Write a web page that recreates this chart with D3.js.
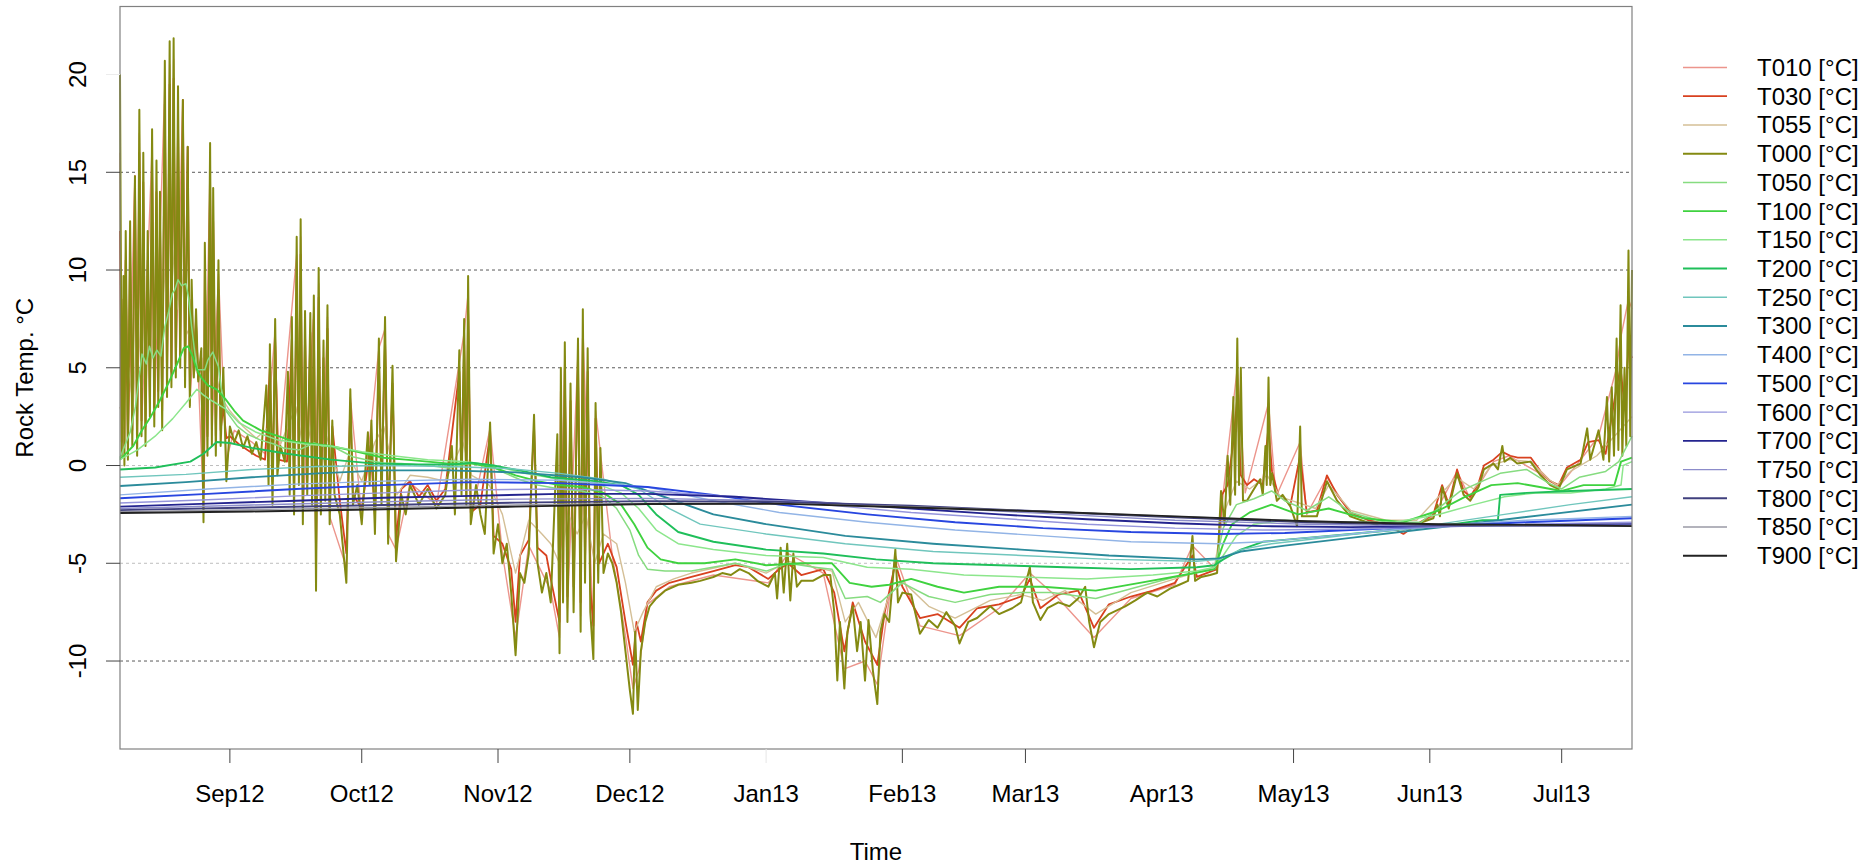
<!DOCTYPE html>
<html>
<head>
<meta charset="utf-8">
<script src="https://cdn.jsdelivr.net/npm/d3@7"></script>
<style>
body{margin:0;background:#fff}
svg{display:block}
text{font-family:"Liberation Sans",Arial,Helvetica,sans-serif;fill:#000}
</style>
</head>
<body>
<svg id="chart" width="1872" height="865"></svg>
<script>

// day offsets from 7 Aug 2012, temperature in degC
var T010 = [[0,16],[0.4,0.8],[1.3,11],[1.8,0.8],[3.4,14.8],[3.9,0.9],[4.4,17],[4.9,1.9],[7.3,16.3],[7.8,2.5],[10.2,19.5],[10.7,3.9],[11.3,20.5],[11.7,4.4],[12.2,20.8],[12.7,4.8],[14.3,18.7],[14.8,4.4],[15.4,16.3],[15.9,3.4],[17.3,7.6],[19.0,-2.2],[20.5,15.5],[20.9,1.4],[22.4,9.8],[24.2,0.3],[26,1.8],[30,1.2],[33,0.6],[35.3,6.9],[36,0.2],[40.2,10.8],[40.7,-0.8],[41.1,11.7],[41.6,-2.5],[44.1,8.1],[44.6,-5.6],[45.2,9.3],[45.7,-2.2],[47.2,7.6],[47.7,-2.6],[51.5,-5.2],[52.4,3.5],[55,-2.6],[58.9,6.0],[60.3,7.0],[61,-3.5],[62.8,-4.3],[66,-0.9],[72,-2.0],[78.3,6.8],[79.2,8.8],[79.8,-2.7],[84.2,1.9],[87,-4.5],[90,-8.8],[93,-4.1],[98,-6.4],[100,-8.8],[101.2,5.6],[101.8,-7.3],[104.2,5.8],[104.8,-7.7],[105.3,7.2],[107.7,-9.0],[108.2,2.8],[112,-4.6],[115,-8.7],[116.7,-11.4],[118,-10.5],[120,-7.1],[125,-6.2],[135,-5.6],[147.5,-6.0],[152,-4.5],[160,-5.5],[164.8,-10.4],[169.5,-10],[172.3,-11.2],[176.4,-4.6],[182,-8.2],[191,-8.7],[200,-7.3],[207,-5.5],[213.5,-6.8],[221.6,-8.8],[230,-6.8],[240,-6.1],[244,-4.1],[249.6,-5.4],[251,-1.4],[254.2,5.0],[256,-1.4],[261.3,3.2],[263,-1.6],[268.5,1.2],[270,-2.5],[274.6,-0.6],[280,-2.5],[292,-3.3],[298.8,-2.6],[304.2,-0.3],[307.2,-1.7],[312.5,0.2],[316,0.5],[323,-0.4],[327.3,-1.1],[332,0.2],[336.4,1.5],[340.5,5.0],[341.4,6.5],[343.2,8.5],[344,8.0]];

var T030 = [[0,12.0],[0.4,1.2],[0.8,8.5],[1.0,1.0],[1.3,10.5],[1.8,1.2],[2.3,11.0],[2.8,1.8],[3.4,14.8],[3.9,1.3],[4.4,16.0],[4.9,2.3],[5.3,14.5],[5.8,2.0],[6.3,10.5],[6.8,3.2],[7.3,15.5],[7.8,3.0],[8.3,14.0],[8.7,3.8],[9.1,12.5],[9.6,2.8],[10.2,18.5],[10.7,4.3],[11.3,19.5],[11.7,4.8],[12.2,19.8],[12.7,5.2],[13.2,17.5],[13.7,5.6],[14.3,18.7],[14.8,4.8],[15.4,16.3],[15.9,3.8],[16.3,8.5],[16.8,5.0],[17.3,7.2],[17.8,4.4],[18.5,5.5],[19.0,-1.5],[19.3,10.0],[19.9,1.5],[20.5,14.5],[20.9,1.8],[21.2,12.5],[21.8,1.5],[22.4,9.0],[22.9,1.8],[23.5,3.0],[24.2,1.4],[25,1.5],[27,1.1],[29,0.8],[31,0.5],[33,0.3],[34.1,5.0],[34.7,-0.8],[35.3,6.3],[36,0.3],[38,0.2],[39.1,6.5],[39.6,-1.5],[40.2,10.0],[40.7,-0.5],[41.1,10.8],[41.6,-2.0],[42.1,6.8],[42.6,-0.8],[43.3,6.8],[43.7,-1.2],[44.1,7.5],[44.6,-4.8],[45.2,8.6],[45.7,-1.8],[46.3,5.5],[46.7,-1.2],[47.2,7.0],[47.7,-2.2],[48.3,2.0],[50,-1.8],[51.5,-4.5],[52.4,3.2],[53,-1.5],[55,-2.2],[57,1.0],[58,-2.6],[58.9,5.5],[59.5,-1.5],[60.3,6.5],[61,-3.0],[62,4.2],[62.8,-3.8],[64,-1.2],[66,-0.8],[68,-1.6],[70,-1.0],[72,-1.8],[74,-1.2],[77.2,4.8],[77.7,-1.0],[78.3,6.2],[78.8,-1.5],[79.2,8.0],[79.8,-2.4],[82,-2.0],[84.2,1.6],[85,-3.6],[87,-4.0],[89,-5.3],[90,-8.0],[91,-4.6],[93,-3.8],[94.2,2.0],[95,-4.2],[97,-4.6],[98,-5.8],[100,-8.0],[100.3,3.8],[100.8,-5.8],[101.2,5.0],[101.8,-6.7],[102.5,3.3],[103.2,-6.2],[104.2,5.2],[104.8,-7.0],[105.3,6.5],[105.8,-5.0],[106.4,4.8],[107,-6.3],[107.7,-8.2],[108.2,2.4],[109,-5.0],[111,-4.0],[113,-5.2],[115,-8.0],[116.7,-10.2],[117.5,-8.0],[118.5,-9.0],[120,-7.0],[122,-6.4],[125,-6.0],[130,-5.7],[135,-5.4],[140,-5.1],[143,-5.2],[147.5,-5.8],[150,-5.3],[152,-5.0],[155,-5.6],[160,-5.3],[162.5,-6.5],[164.8,-9.5],[166.7,-7.0],[169.5,-9.0],[172.3,-10.2],[174,-7.5],[176.4,-5.0],[178,-6.2],[182,-7.8],[186,-7.6],[191,-8.3],[195,-7.3],[200,-7.1],[205,-6.7],[207,-5.8],[209.4,-7.3],[213.5,-6.6],[218,-6.4],[221.6,-8.3],[225,-7.1],[230,-6.7],[235,-6.4],[240,-6.0],[244,-4.6],[245,-5.7],[249.6,-5.3],[250.7,-1.5],[252,-1.0],[253.3,1.2],[254.2,3.5],[255,-0.5],[256.4,-1.0],[258,-0.7],[260,-1.0],[261.3,2.0],[262.1,-0.3],[263.5,-1.5],[266.3,-2.0],[268.5,0.5],[270,-2.4],[272.3,-2.3],[274.6,-0.5],[276.9,-1.5],[280,-2.4],[284,-2.8],[288,-3.0],[292,-3.5],[295,-3.0],[298.8,-2.5],[300.8,-1.0],[302.3,-2.0],[304.2,-0.2],[305.7,-1.3],[307.2,-1.6],[309.1,-0.9],[310.3,0.0],[312.5,0.3],[314.5,0.7],[316.3,0.5],[318,0.4],[321,0.4],[323.2,-0.3],[325.4,-0.8],[327.3,-1.0],[329.2,-0.1],[332.3,0.3],[334,1.2],[336.4,1.3],[338,0.6],[339.4,2.5],[340.5,4.0],[341.4,5.0],[342.3,3.0],[343.2,6.0],[344,5.5]];

var T055 = [[0,3],[1,2],[2,5],[3,3],[4,8],[5,4],[6,7],[7,5],[8,8],[9,5],[10,10],[11,7],[12,11],[13,8],[14,10],[15,7],[16,6.5],[17,5],[18,4.5],[19,2],[20,6],[21,4],[22,4.5],[23,3.5],[25,2.8],[28,2.0],[31,1.4],[34,2.0],[36,0.8],[40,3.0],[42,0.5],[44,2.5],[45,-1.5],[47,1.5],[50,-0.8],[52,0.5],[55,-0.8],[58,1.2],[60,2.0],[62,0.0],[63,-1.5],[66,-0.5],[70,-0.6],[74,-0.8],[78,1.2],[80,-0.5],[84,-1.0],[87,-2.5],[90,-5.5],[93,-2.8],[96,-3.5],[98,-4.0],[100,-5.0],[102,-2.5],[104,-3.5],[106,-2.5],[108,-5.0],[110,-3.5],[113,-4.0],[115,-6.0],[117,-8.5],[119,-7.5],[122,-6.2],[126,-5.8],[130,-5.5],[140,-5.0],[147,-5.5],[152,-4.9],[158,-5.2],[162,-5.4],[165,-8.0],[168,-7.0],[172,-8.8],[175,-6.6],[178,-5.9],[184,-7.2],[190,-7.8],[198,-6.9],[205,-6.6],[210,-6.9],[215,-6.4],[222,-7.6],[230,-6.5],[240,-5.8],[249,-5.2],[251,-2.5],[254,-0.8],[257,-1.2],[261,-0.5],[264,-1.6],[268,-1.9],[272,-2.2],[275,-1.0],[280,-2.3],[288,-2.8],[295,-2.8],[300,-1.6],[304,-0.6],[308,-1.2],[312,0.0],[316,0.3],[321,0.2],[325,-0.7],[327,-1.0],[330,-0.3],[336,0.5],[340,1.5],[344,2.5]];

var T000 = [[0,20.0],[0.4,0.5],[0.8,9.7],[1.0,0.0],[1.3,12.0],[1.8,0.3],[2.3,12.5],[2.8,1.0],[3.4,14.8],[3.9,0.5],[4.4,18.2],[4.9,1.5],[5.3,16.0],[5.8,1.0],[6.3,12.0],[6.8,2.5],[7.3,17.2],[7.8,2.0],[8.3,15.6],[8.7,3.0],[9.1,14.0],[9.6,1.8],[10.2,20.7],[10.7,3.5],[11.3,21.7],[11.7,4.0],[12.2,21.85],[12.7,4.5],[13.2,19.4],[13.7,5.0],[14.3,18.7],[14.8,4.0],[15.4,16.3],[15.9,3.0],[16.3,9.5],[16.8,4.5],[17.3,8.0],[17.8,4.3],[18.5,6.0],[19.0,-2.9],[19.3,11.4],[19.9,0.5],[20.5,16.5],[20.9,1.0],[21.2,14.2],[21.8,0.5],[22.4,10.5],[22.9,1.0],[23.5,5.0],[24.2,-0.8],[25,2.0],[26,1.2],[27,1.8],[28,0.9],[29,1.5],[30,0.6],[31,1.2],[32,0.3],
[33.3,4.1],[33.8,-1.0],[34.1,6.2],[34.7,-2.0],[35.3,7.5],[35.8,-0.5],[36.5,1.0],[37.5,0.2],[38.2,4.8],[38.6,-1.5],[39.1,7.6],[39.6,-2.5],[40.2,11.7],[40.7,-1.0],[41.1,12.6],[41.6,-3.0],[42.1,7.9],[42.6,-1.5],[43.3,7.8],[43.7,-2.0],[44.1,8.7],[44.6,-6.4],[45.2,10.1],[45.7,-2.5],[46.3,6.4],[46.7,-1.8],[47.2,8.2],[47.7,-3.0],[48.3,2.3],[48.8,-1.5],[50,-2.5],[51.5,-6.0],[52.4,3.9],[53,-2.0],[54,-1.0],[55,-3.0],[56.4,1.7],[56.8,-1.0],[57.2,2.3],[58,-3.5],[58.9,6.5],[59.5,-2.0],[60.3,7.6],[61,-4.0],[62,5.1],[62.8,-4.9],[64,-1.5],[65,-2.5],[66,-1.0],[68,-2.0],[70,-1.2],[72,-2.2],[74,-1.5],[75.5,1.0],[76.2,-2.5],[77.2,5.9],[77.7,-1.5],[78.3,7.5],[78.8,-2.0],[79.2,9.7],[79.8,-3.0],[81,-1.0],[82,-2.5],[83,-3.5],[84.2,2.2],[85,-4.5],[86,-3.0],[87,-5.0],[88,-4.0],[89,-6.5],[90,-9.7],[91,-5.5],[92,-6.0],[93,-4.5],[94.2,2.6],[95,-5.0],[96,-6.5],[97,-5.5],[98,-7.0],[99.5,1.6],[100,-9.6],[100.3,5.0],[100.8,-7.0],[101.2,6.3],[101.8,-8.0],[102.5,4.2],[103.2,-7.5],[104.2,6.5],[104.8,-8.5],[105.3,8.0],[105.8,-6.0],[106.4,6.0],[107,-7.5],[107.7,-9.9],[108.2,3.2],[108.8,-6.0],[109.3,0.9],[110,-5.5],[111,-4.5],[112,-5.0],[113,-6.0],[114,-7.5],[115,-9.5],[116,-11.5],[116.7,-12.7],[117.2,-8.5],[117.8,-12.5],[118.5,-9.5],[119.5,-8.0],[120.5,-7.2],[122,-6.8],[124,-6.4],[127,-6.1],[130,-6.0],[132,-5.9],[135,-5.7],[137,-5.5],[139,-5.6],[141,-5.3],[143,-5.5],[145,-5.9],[147.5,-6.2],[149,-5.5],[149.5,-6.8],[150.3,-4.2],[151,-6.5],[151.8,-4.0],[152.5,-6.9],[153.2,-4.5],[154,-6.2],[155,-5.9],[157.6,-5.9],[160,-5.6],[161.6,-5.6],[162.5,-7.5],[163.2,-11.0],[163.8,-8.0],[164.8,-11.4],[165.5,-8.5],[166.7,-7.2],[167.7,-9.5],[168.5,-8.0],[169.5,-11.0],[170.3,-7.9],[171.3,-10.5],[172.3,-12.2],[173,-8.5],[173.9,-7.6],[175,-8.0],[176.4,-4.3],[177,-7.0],[178,-6.5],[180,-6.6],[182,-8.6],[184,-7.9],[186,-8.3],[188,-7.5],[190,-8.2],[191,-9.1],[193,-8.0],[195,-7.8],[198,-7.2],[200,-7.6],[203,-7.3],[205,-7.0],[207,-5.2],[207.7,-7.0],[209.4,-7.9],[211,-7.3],[213.5,-7.0],[216,-7.2],[218,-6.8],[219.6,-6.2],[220.5,-8.0],[221.6,-9.3],[223,-8.0],[225,-7.6],[228.7,-7.2],[231,-6.9],[233.7,-6.5],[236,-6.7],[238.9,-6.3],[241,-6.1],[243,-5.9],[244,-3.6],[244.6,-5.9],[246,-5.7],[248,-5.6],[249.6,-5.5],[250.5,-1.3],[251.3,-3.0],[252,0.5],[252.6,-2.0],[253.3,3.5],[253.7,-1.5],[254.2,6.5],[254.6,-1.0],[255,5.0],[255.5,-1.8],[256.4,-1.8],[258,-1.2],[259.4,-0.7],[260,-1.5],[260.6,1.0],[260.9,-1.0],[261.3,4.5],[261.7,-1.0],[262.1,-0.4],[263.2,-1.8],[264.5,-1.5],[266.3,-2.1],[267.8,-3.1],[268.5,2.0],[268.9,-2.6],[270,-2.6],[272.3,-2.6],[274.6,-0.8],[276.9,-1.8],[279.9,-2.6],[283.7,-2.9],[287,-3.1],[291,-3.1],[295,-3.0],[298.8,-2.7],[299.7,-2.0],[300.3,-2.6],[300.8,-1.1],[302.3,-2.2],[304.2,-0.4],[305.7,-1.5],[307.2,-1.8],[309.1,-1.1],[310.3,-0.2],[312.5,0.1],[313.5,-0.2],[314.5,1.0],[315,0.2],[316.3,0.4],[317.9,0.1],[320.9,0.2],[323.2,-0.5],[325.4,-1.0],[327.3,-1.2],[329.2,-0.2],[332.3,0.1],[333.8,1.9],[334.5,0.3],[336.4,1.8],[337.5,0.3],[338.3,3.5],[338.8,0.2],[339.4,4.0],[339.9,0.5],[340.5,6.5],[340.9,0.8],[341.4,8.2],[341.8,0.5],[342.3,5.0],[342.7,1.0],[343.2,11.0],[343.6,1.5],[344,10.0]];

var T050 = [[0,0.4],[2.3,1.7],[3.5,3.0],[5,5.7],[6,5.2],[6.7,6.1],[7.5,5.5],[8.4,5.9],[9.3,5.6],[10.2,7.1],[11,7.8],[11.9,8.8],[12.5,9.0],[13.2,9.5],[14,9.2],[15,9.3],[15.6,8.6],[16.3,7.1],[17,5.8],[17.6,4.9],[19.3,4.9],[20,5.4],[21.1,5.8],[22.4,5.05],[23,4.0],[24.1,2.8],[26.7,2.0],[29,1.6],[32,1.3],[35,1.1],[37.2,0.9],[40.7,0.8],[44.2,1.15],[46,1.0],[48.5,0.96],[52.9,0.45],[56,0.3],[59.8,0.13],[64,0.1],[68.5,0.03],[72,-0.05],[74.6,-0.13],[77,0.0],[79.9,0.13],[83.8,0.05],[87.7,-0.4],[91.2,-0.74],[95,-1.0],[100,-1.2],[105,-1.3],[110,-1.6],[113,-2.2],[116,-3.3],[118,-4.6],[120,-5.3],[124,-5.4],[130,-5.4],[140,-5.0],[147,-5.4],[152,-5.0],[158,-5.2],[162,-5.3],[165,-6.8],[170,-6.7],[173,-7.0],[178,-6.0],[184,-6.7],[190,-7.0],[198,-6.6],[205,-6.5],[212,-6.5],[222,-6.8],[230,-6.3],[240,-5.7],[249,-5.3],[251,-3.2],[254,-2.0],[258,-1.7],[262,-1.3],[265,-1.8],[270,-2.3],[275,-1.6],[280,-2.4],[288,-2.9],[296,-2.9],[301,-2.0],[305,-1.3],[310,-0.8],[314,-0.4],[320,-0.2],[325,-0.9],[328,-1.2],[332,-0.6],[338,-0.3],[341,0.2],[344,1.5]];

var T100 = [[0,0.3],[3,1.0],[5,1.8],[7,2.5],[9,3.3],[11,4.2],[13,5.2],[14.5,6.0],[15.5,6.1],[16.5,5.6],[17.5,4.9],[18.5,4.5],[20,4.1],[22,3.9],[24,3.4],[26,2.8],[28,2.3],[32,1.8],[36,1.5],[40,1.2],[44,1.1],[48,1.0],[52,0.8],[56,0.6],[60,0.4],[65,0.3],[70,0.2],[75,0.1],[80,0.1],[85,-0.1],[90,-0.5],[95,-0.8],[100,-1.0],[105,-1.1],[110,-1.4],[114,-2.0],[117,-3.0],[120,-4.2],[123,-4.8],[127,-5.0],[133,-5.0],[140,-4.8],[147,-5.1],[155,-5.0],[162,-5.0],[166,-6.0],[171,-6.2],[175,-6.1],[180,-5.8],[186,-6.2],[192,-6.5],[200,-6.2],[210,-6.2],[222,-6.4],[232,-6.0],[242,-5.6],[249,-5.3],[251,-4.0],[253,-3.0],[257,-2.4],[262,-2.0],[268,-2.5],[275,-2.2],[283,-2.7],[292,-2.9],[300,-2.3],[306,-1.6],[312,-1.0],[318,-0.9],[323,-1.1],[328,-1.3],[333,-1.0],[340,-1.0],[341.5,0.2],[344,0.4]];

var T150 = [[0,0.3],[4,0.8],[8,1.5],[12,2.4],[15,3.2],[17.5,3.9],[19,3.6],[21,3.3],[24,2.9],[27,2.2],[31,1.7],[36,1.3],[42,1.1],[48,1.0],[55,0.7],[62,0.5],[70,0.3],[78,0.2],[85,0.0],[92,-0.4],[100,-0.7],[108,-0.9],[114,-1.4],[118,-2.2],[122,-3.3],[127,-4.0],[135,-4.3],[147,-4.6],[160,-4.7],[170,-5.2],[180,-5.3],[192,-5.6],[205,-5.7],[220,-5.8],[235,-5.6],[245,-5.4],[249,-5.2],[251,-4.6],[254,-3.6],[258,-3.0],[265,-2.8],[272,-2.9],[280,-2.9],[290,-2.9],[300,-2.5],[308,-2.0],[315,-1.6],[322,-1.4],[330,-1.4],[338,-1.2],[341.5,-1.0],[342,0.0],[344,0.2]];

var T200 = [[0,-0.2],[8,-0.1],[16,0.2],[19,0.6],[22,1.2],[25,1.15],[30,0.9],[38,0.6],[48,0.3],[58,0.1],[68,0.05],[76,0.05],[80,0.15],[85,0.0],[92,-0.3],[98,-0.6],[108,-0.8],[114,-1.0],[118,-1.5],[122,-2.5],[127,-3.4],[135,-3.9],[147,-4.3],[160,-4.5],[172,-4.8],[185,-5.0],[200,-5.1],[215,-5.2],[230,-5.3],[245,-5.2],[249,-5.1],[251,-4.8],[255,-4.3],[260,-3.9],[270,-3.7],[280,-3.5],[290,-3.3],[300,-3.1],[310,-2.8],[313.5,-2.8],[314,-1.5],[320,-1.4],[330,-1.3],[344,-1.2]];

var T250 = [[0,-0.6],[15,-0.45],[30,-0.2],[45,-0.05],[60,0.0],[75,-0.05],[88,-0.15],[100,-0.4],[110,-0.7],[118,-1.2],[125,-2.2],[132,-3.0],[147,-3.5],[165,-4.0],[185,-4.4],[205,-4.6],[225,-4.8],[245,-4.9],[250,-4.8],[255,-4.3],[262,-4.0],[270,-3.8],[285,-3.4],[300,-3.0],[315,-2.5],[330,-2.0],[344,-1.6]];

var T300 = [[0,-1.05],[15,-0.85],[30,-0.6],[45,-0.4],[60,-0.25],[75,-0.25],[90,-0.35],[105,-0.6],[115,-0.9],[125,-1.7],[135,-2.5],[147,-3.0],[165,-3.6],[185,-4.0],[205,-4.3],[225,-4.6],[245,-4.8],[250,-4.75],[255,-4.4],[265,-4.1],[280,-3.7],[295,-3.3],[310,-2.9],[325,-2.5],[344,-2.0]];

var T400 = [[0,-1.5],[20,-1.2],[40,-0.95],[60,-0.8],[80,-0.7],[100,-0.75],[120,-1.1],[135,-1.8],[150,-2.4],[170,-2.9],[190,-3.3],[210,-3.6],[230,-3.9],[250,-4.0],[260,-3.9],[275,-3.6],[290,-3.3],[305,-3.0],[320,-2.8],[344,-2.6]];

var T500 = [[0,-1.67],[20,-1.45],[40,-1.2],[60,-1.0],[80,-0.85],[100,-0.9],[120,-1.1],[135,-1.5],[150,-2.0],[170,-2.5],[190,-2.9],[210,-3.2],[230,-3.4],[250,-3.5],[265,-3.45],[280,-3.3],[300,-3.1],[320,-2.9],[344,-2.7]];

var T600 = [[0,-1.92],[20,-1.75],[40,-1.55],[60,-1.4],[80,-1.25],[100,-1.2],[120,-1.3],[140,-1.6],[160,-2.0],[180,-2.4],[200,-2.7],[220,-3.0],[240,-3.2],[260,-3.3],[280,-3.25],[300,-3.15],[320,-3.0],[344,-2.9]];

var T700 = [[0,-2.1],[20,-1.95],[40,-1.8],[60,-1.65],[80,-1.55],[100,-1.45],[120,-1.45],[140,-1.6],[160,-1.9],[180,-2.2],[200,-2.5],[220,-2.75],[240,-2.95],[260,-3.1],[280,-3.15],[300,-3.1],[320,-3.05],[344,-3.0]];

var T750 = [[0,-2.2],[30,-2.02],[60,-1.85],[90,-1.72],[120,-1.68],[150,-1.8],[180,-2.1],[210,-2.45],[240,-2.8],[270,-3.0],[300,-3.1],[344,-3.05]];

var T800 = [[0,-2.28],[30,-2.15],[60,-2.02],[90,-1.9],[120,-1.82],[150,-1.86],[180,-2.05],[210,-2.35],[240,-2.65],[270,-2.9],[300,-3.05],[344,-3.1]];

var T850 = [[0,-2.36],[30,-2.26],[60,-2.14],[90,-2.02],[120,-1.93],[150,-1.95],[180,-2.1],[210,-2.35],[240,-2.6],[270,-2.85],[300,-3.0],[344,-3.1]];

var T900 = [[0,-2.43],[30,-2.35],[60,-2.24],[90,-2.1],[120,-1.97],[150,-1.95],[180,-2.15],[210,-2.35],[240,-2.6],[270,-2.85],[300,-3.0],[330,-3.05],[344,-3.1]];

var seriesNames = ["T010 [°C]","T030 [°C]","T055 [°C]","T000 [°C]","T050 [°C]","T100 [°C]","T150 [°C]","T200 [°C]","T250 [°C]","T300 [°C]","T400 [°C]","T500 [°C]","T600 [°C]","T700 [°C]","T750 [°C]","T800 [°C]","T850 [°C]","T900 [°C]"];
var seriesData = [T010,T030,T055,T000,T050,T100,T150,T200,T250,T300,T400,T500,T600,T700,T750,T800,T850,T900];
var yTicks = [-10,-5,0,5,10,15,20];
var gridValues = [-10,-5,0,5,10,15];

// styles
var colors = ["#ec958c","#d8411f","#d4bf96","#848a12","#86dc80","#3fd23f","#8ce68c","#1fbf5a","#70c6bd","#2b8b9b","#92b4e6","#2846e0","#9595dc","#24248f","#8c8cca","#40407e","#9a9aa6","#222222"];
var widths = [1.4,1.8,1.4,2,1.5,1.9,1.5,1.9,1.4,1.9,1.4,1.9,1.4,1.9,1.4,1.9,1.4,1.9];

var svg = d3.select("#chart");
var pLeft = 120, pRight = 1632, pTop = 6.5, pBottom = 749;
var t0 = Date.UTC(2012,7,7);

var x = d3.scaleUtc()
    .domain([new Date(t0), new Date(Date.UTC(2013,6,17))])
    .range([pLeft, pRight]);
var y = d3.scaleLinear().domain([-14.5, 23.48]).range([pBottom, pTop]);

function dayToDate(d){ return new Date(t0 + d*86400000); }

// grid
svg.append("g").selectAll("line").data(gridValues).enter().append("line")
    .attr("x1", pLeft).attr("x2", pRight)
    .attr("y1", function(d){return y(d)}).attr("y2", function(d){return y(d)})
    .attr("stroke", function(d){ return (d==0 || d==-5) ? "#bdbdbd" : "#5a5a5a"; })
    .attr("stroke-width", 1)
    .attr("stroke-dasharray", "3,3");

// lines
var line = d3.line()
    .x(function(d){ return x(dayToDate(d[0])); })
    .y(function(d){ return y(d[1]); });

var plot = svg.append("g");
seriesData.forEach(function(s, i){
    plot.append("path")
        .datum(s)
        .attr("d", line)
        .attr("fill", "none")
        .attr("stroke", colors[i])
        .attr("stroke-width", widths[i])
        .attr("stroke-linejoin", "round");
});

// box
svg.append("rect")
    .attr("x", pLeft).attr("y", pTop)
    .attr("width", pRight-pLeft).attr("height", pBottom-pTop)
    .attr("fill", "none").attr("stroke", "#808080").attr("stroke-width", 1.2);

// x axis
var months = x.ticks(d3.utcMonth.every(1));
var fmt = d3.utcFormat("%b%y");
var xa = svg.append("g");
xa.selectAll("line").data(months).enter().append("line")
    .attr("x1", function(d){return x(d)}).attr("x2", function(d){return x(d)})
    .attr("y1", pBottom).attr("y2", pBottom+14)
    .attr("stroke", function(d){
        var m = d.getUTCMonth();
        if (m==3) return "none";
        if (m==0) return "#e6e6e6";
        return "#444";
    });
xa.selectAll("text").data(months).enter().append("text")
    .attr("x", function(d){return x(d)})
    .attr("y", 802)
    .attr("text-anchor", "middle")
    .style("font-size", "24px")
    .text(function(d){ return fmt(d); });

svg.append("text")
    .attr("x", (pLeft+pRight)/2).attr("y", 860)
    .attr("text-anchor", "middle")
    .style("font-size", "24px")
    .text("Time");

// y axis
var ya = svg.append("g");
ya.selectAll("line").data(yTicks).enter().append("line")
    .attr("x1", pLeft-14).attr("x2", pLeft)
    .attr("y1", function(d){return y(d)}).attr("y2", function(d){return y(d)})
    .attr("stroke", function(d){ return d==20 ? "#ececec" : "#444"; });
ya.selectAll("text").data(yTicks).enter().append("text")
    .attr("transform", function(d){ return "translate(86," + y(d) + ") rotate(-90)"; })
    .attr("text-anchor", "middle")
    .style("font-size", "24px")
    .text(function(d){ return d; });

svg.append("text")
    .attr("transform", "translate(33," + ((pTop+pBottom)/2) + ") rotate(-90)")
    .attr("text-anchor", "middle")
    .style("font-size", "24px")
    .text("Rock Temp. °C");

// legend
var lg = svg.append("g");
seriesNames.forEach(function(n, i){
    var yy = 67.5 + i*28.72;
    lg.append("line")
        .attr("x1", 1683).attr("x2", 1727)
        .attr("y1", yy).attr("y2", yy)
        .attr("stroke", colors[i]).attr("stroke-width", widths[i]);
    lg.append("text")
        .attr("x", 1757).attr("y", yy)
        .attr("dy", "0.35em")
        .style("font-size", "24px")
        .text(n);
});

</script>
</body>
</html>
